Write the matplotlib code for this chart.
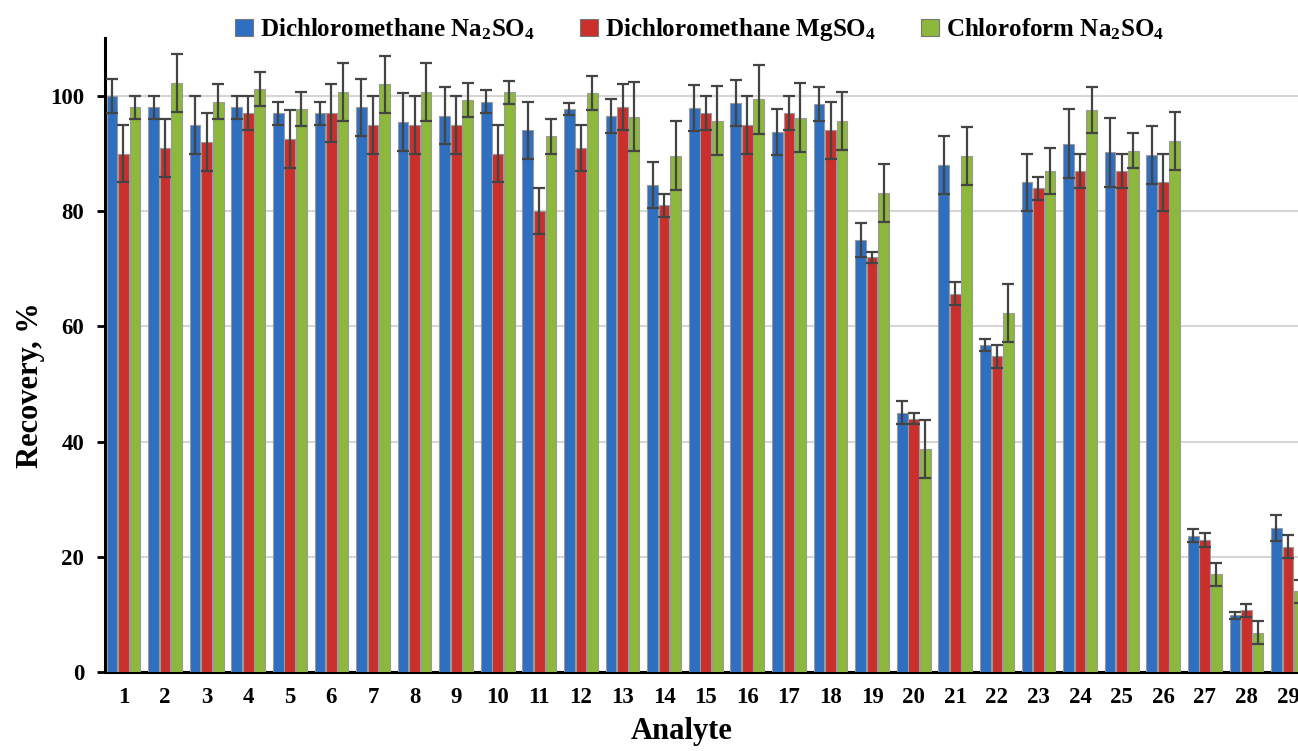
import numpy as np
import matplotlib
matplotlib.use('Agg')
import matplotlib.pyplot as plt
from matplotlib.patches import Patch

plt.rcParams['font.family'] = ['Liberation Serif', 'DejaVu Serif']
plt.rcParams['font.weight'] = 'bold'
plt.rcParams['mathtext.fontset'] = 'custom'
plt.rcParams['mathtext.rm'] = 'Liberation Serif:bold'
plt.rcParams['mathtext.it'] = 'Liberation Serif:bold'
plt.rcParams['mathtext.bf'] = 'Liberation Serif:bold'

# Analyte numbers
analytes = list(range(1, 30))

series_names = ['Dichloromethane Na$_2$SO$_4$',
                'Dichloromethane MgSO$_4$',
                'Chloroform Na$_2$SO$_4$']

dcm_na = [100, 98, 95, 98, 97, 97, 98, 95.5, 96.6, 99, 94, 97.7, 96.5, 84.6, 97.9,
          98.7, 93.7, 98.6, 75, 45, 88, 56.8, 85, 91.7, 90.2, 89.8, 23.7, 9.9, 25]
dcm_na_err = [3, 2, 5, 2, 2, 2, 5, 5, 5, 2, 5, 1, 3, 4, 4,
              4, 4, 3, 3, 2, 5, 1, 5, 6, 6, 5, 1.2, 0.6, 2.2]

dcm_mg = [90, 91, 92, 97, 92.5, 97, 95, 95, 95, 90, 80, 91, 98, 81, 97,
          95, 97, 94, 72, 44, 65.7, 54.8, 84, 87, 87, 85, 23, 10.7, 21.8]
dcm_mg_err = [5, 5, 5, 3, 5, 5, 5, 5, 5, 5, 4, 4, 4, 2, 3,
              5, 3, 5, 1, 1, 2, 2, 2, 3, 3, 5, 1.2, 1.2, 2]

chl_na = [98, 102.2, 99, 101.2, 97.7, 100.7, 102, 100.7, 99.3, 100.6, 93, 100.5, 96.4, 89.6, 95.7,
          99.4, 96.2, 95.6, 83.1, 38.7, 89.6, 62.3, 87, 97.5, 90.5, 92.2, 17, 6.8, 14]
chl_na_err = [2, 5, 3, 3, 3, 5, 5, 5, 3, 2, 3, 3, 6, 6, 6,
              6, 6, 5, 5, 5, 5, 5, 4, 4, 3, 5, 2, 2, 2]

colors = ['#2e6fc2', '#c9302c', '#8cb83c']

fig = plt.figure(figsize=(12.98, 7.51), dpi=100)
ax = fig.add_axes([0.081, 0.105, 0.919, 0.844])

x = np.array(analytes)
w = 0.277
data = [(dcm_na, dcm_na_err), (dcm_mg, dcm_mg_err), (chl_na, chl_na_err)]
for i, (vals, errs) in enumerate(data):
    ax.bar(x + (i - 1) * w, vals, width=w * 0.93, color=colors[i],
           edgecolor='#9a9a9a', linewidth=0.8, zorder=3)
    ax.errorbar(x + (i - 1) * w, vals, yerr=errs, fmt='none', ecolor='#444444',
                elinewidth=1.6, capsize=4, capthick=1.6, zorder=4)

ax.set_xlim(0.56, 29.24)
ax.set_ylim(0, 110)
ax.set_yticks([0, 20, 40, 60, 80, 100])
ax.set_xticks(x)
ax.set_xticklabels([str(a) for a in analytes])
ax.tick_params(axis='y', labelsize=16.5, length=6, width=2, pad=9)
ax.tick_params(axis='x', labelsize=16.5, length=0, pad=11)
ax.yaxis.grid(True, color='#d6d6d6', linewidth=1.5, zorder=0)
ax.set_axisbelow(True)
for s in ['top', 'right']:
    ax.spines[s].set_visible(False)
ax.spines['left'].set_linewidth(2.2)
ax.spines['bottom'].set_linewidth(2.2)

ax.set_ylabel('Recovery, %', fontsize=22, fontweight='bold', labelpad=4)
ax.set_xlabel('Analyte', fontsize=22, fontweight='bold', labelpad=6)
ax.yaxis.label.set_y(0.453)
ax.xaxis.label.set_x(0.483)

handles = [Patch(facecolor=c, edgecolor='#777777', linewidth=0.8) for c in colors]
fig.legend(handles, series_names, loc='upper center', bbox_to_anchor=(0.539, 1.008),
           ncol=3, frameon=False, fontsize=18, handlelength=0.7, handleheight=0.7,
           handletextpad=0.3, columnspacing=1.8)

fig.savefig('out.png', dpi=100)
